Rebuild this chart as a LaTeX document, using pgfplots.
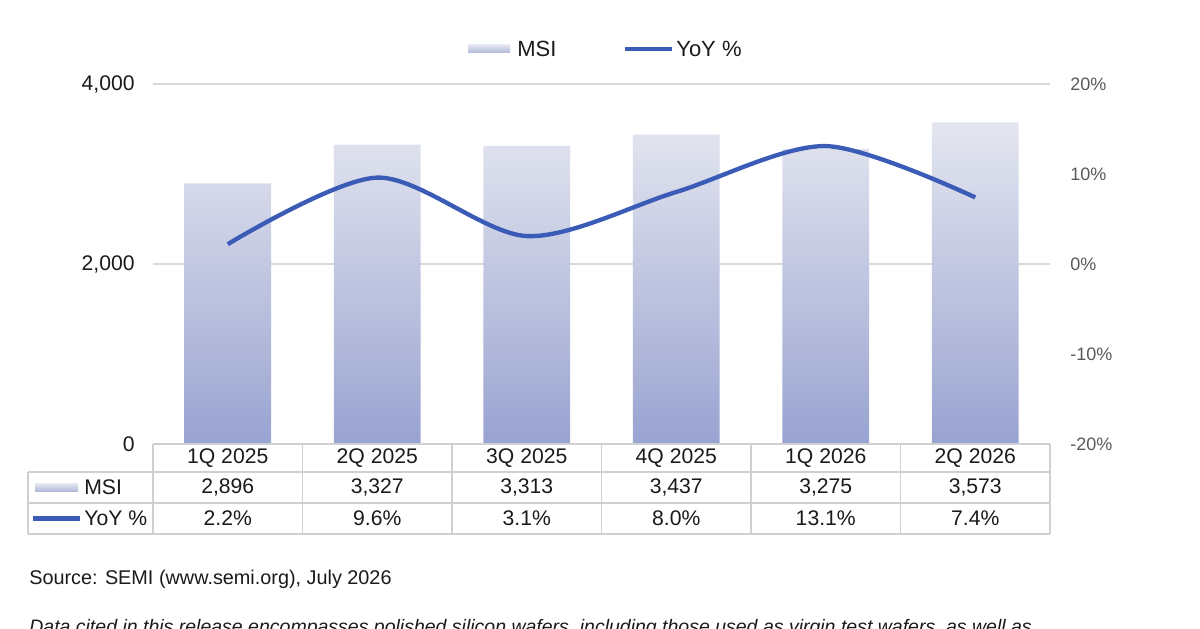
\documentclass[border=0pt]{standalone}
\usepackage{pgfplots}
\pgfplotsset{compat=1.18}
\usepackage{fontspec}
\setmainfont{Liberation Sans}
\definecolor{barTop}{HTML}{E4E6EF}
\definecolor{barBot}{HTML}{99A3D1}
\definecolor{lineBlue}{HTML}{3A5BB6}
\definecolor{gridG}{HTML}{D9D9D9}
\definecolor{tblG}{HTML}{D0D0D0}
\definecolor{rtick}{HTML}{595959}
\definecolor{txt}{HTML}{1A1A1A}
\newcommand\tblfont{\fontsize{12.7}{15}\selectfont}
\begin{document}
\begin{tikzpicture}[x=0.6pt,y=0.6pt,font=\tblfont]
\path[use as bounding box] (0,0) rectangle (1200,629);
\begin{axis}[
  at={(91.8pt,111pt)}, anchor=south west,
  scale only axis, width=538.2pt, height=216pt,
  xmin=-0.5, xmax=5.5, ymin=0, ymax=4000,
  ytick={0,2000,4000}, xtick=\empty,
  axis line style={draw=none}, major tick length=0pt,
  ymajorgrids, grid style={gridG, line width=1.1pt},
  /pgf/number format/assume math mode=true,
  /pgf/number format/1000 sep={,},
  yticklabel style={font=\fontsize{12.7}{15}\selectfont, text=txt, anchor=east, inner sep=0pt, xshift=-10.8pt},
  clip=false,
]
\addplot[ybar, bar width=52pt, draw=none, top color=barTop, bottom color=barBot]
  coordinates {(0,2896) (1,3327) (2,3313) (3,3437) (4,3275) (5,3573)};
\end{axis}
\begin{axis}[
  at={(91.8pt,111pt)}, anchor=south west,
  scale only axis, width=538.2pt, height=216pt,
  xmin=-0.5, xmax=5.5, ymin=-20, ymax=20,
  axis y line*=right, axis x line=none,
  ytick={-20,-10,0,10,20},
  axis line style={draw=none}, major tick length=0pt,
  /pgf/number format/assume math mode=true,
  yticklabel={\pgfmathprintnumber{\tick}\%},
  yticklabel style={font=\fontsize{10.8}{13}\selectfont, text=rtick, anchor=west, inner sep=0pt, xshift=12pt},
  clip=false,
]
\addplot[lineBlue, line width=2.6pt, smooth, tension=0.5]
  coordinates {(0,2.2) (1,9.6) (2,3.1) (3,8.0) (4,13.1) (5,7.4)};
\end{axis}
% legend
\fill[top color=barTop, bottom color=barBot!70!barTop] (468,576) rectangle (510,584);
\node[anchor=west, inner sep=0pt, text=txt, font=\fontsize{13.2}{16}\selectfont] at (517,580) {MSI};
\draw[lineBlue, line width=2.6pt] (625,580) -- (672,580);
\node[anchor=west, inner sep=0pt, text=txt, font=\fontsize{13.2}{16}\selectfont] at (676,580) {YoY \%};
% table
\begin{scope}[tblG, line width=0.9pt]
\draw (153,185) -- (1050,185);
\draw (28,157) -- (1050,157);
\draw (28,126) -- (1050,126);
\draw (28,95) -- (1050,95);
\draw (28,157) -- (28,95);
\foreach \k in {0,...,6} {\draw ({153+149.5*\k},185) -- ({153+149.5*\k},95);}
\end{scope}
\foreach \lab [count=\i from 0] in {1Q 2025,2Q 2025,3Q 2025,4Q 2025,1Q 2026,2Q 2026}
  {\node[inner sep=0pt, text=txt] at ({227.75+149.5*\i},171) {\lab};}
\foreach \lab [count=\i from 0] in {{2,896},{3,327},{3,313},{3,437},{3,275},{3,573}}
  {\node[inner sep=0pt, text=txt] at ({227.75+149.5*\i},141.5) {\lab};}
\foreach \lab [count=\i from 0] in {2.2\%,9.6\%,3.1\%,8.0\%,13.1\%,7.4\%}
  {\node[inner sep=0pt, text=txt] at ({227.75+149.5*\i},110.5) {\lab};}
\fill[top color=barTop, bottom color=barBot!70!barTop] (35,137.5) rectangle (78,145.5);
\node[anchor=west, inner sep=0pt, text=txt] at (84,141.5) {MSI};
\draw[lineBlue, line width=2.6pt] (33,110.5) -- (80,110.5);
\node[anchor=west, inner sep=0pt, text=txt] at (84,110.5) {YoY \%};
% notes
\node[anchor=base west, inner sep=0pt, text=txt, font=\fontsize{11.9}{14}\selectfont] at (29,44) {Source: SEMI (www.semi.org), July 2026};
\node[anchor=base west, inner sep=0pt, text=txt, font=\fontsize{11.7}{14}\selectfont] at (29,-5) {\itshape Data cited in this release encompasses polished silicon wafers, including those used as virgin test wafers, as well as};
\end{tikzpicture}
\end{document}
